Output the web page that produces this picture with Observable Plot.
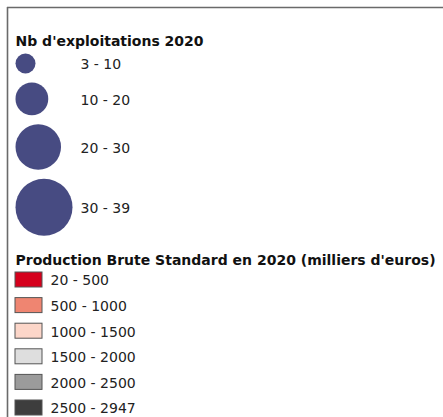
<!DOCTYPE html>
<html>
<head>
<meta charset="utf-8">
<script src="https://cdn.jsdelivr.net/npm/d3@7"></script>
<script src="https://cdn.jsdelivr.net/npm/@observablehq/plot@0.6"></script>
<style>
  html, body { margin: 0; padding: 0; background: #fff; }
  #chart svg { display: block; }
</style>
</head>
<body>
<div id="chart"></div>
<script>
// --- data ---
const sizeTitle = "Nb d'exploitations 2020";
const sizeLabels = ["3 - 10", "10 - 20", "20 - 30", "30 - 39"];
const sizeValues = [10, 20, 30, 39];            // upper bound of each class

const colorTitle = "Production Brute Standard en 2020 (milliers d'euros)";
const colorLabels = ["20 - 500", "500 - 1000", "1000 - 1500", "1500 - 2000", "2000 - 2500", "2500 - 2947"];
const colorValues = ["#d5001c", "#ef8571", "#fcd6c9", "#dedede", "#9b9b9b", "#3d3d3d"];

// --- layout (computed, not data) ---
const W = 443, H = 417;
const font = "DejaVu Sans";
const rDomain = [10, 39], rRange = [10, 28.5];
const rScale = d3.scaleLinear(rDomain, rRange);
const leftEdge = 15, gap = 9;
let cursorY = 53;
const circles = sizeValues.map((v, i) => {
  const r = rScale(v);
  const c = {label: sizeLabels[i], value: v, x: leftEdge + r, y: cursorY + r};
  cursorY += 2 * r + gap;
  return c;
});
const rowStep = 25.6, rowTop = 272, swH = 15, swW = 27;
const swatches = colorLabels.map((label, i) => ({
  label, color: colorValues[i],
  y1: rowTop + i * rowStep, y2: rowTop + i * rowStep + swH
}));

const chart = Plot.plot({
  width: W, height: H,
  margin: 0,
  x: {domain: [0, W], range: [0, W], axis: null},
  y: {domain: [0, H], range: [0, H], axis: null},
  r: {type: "linear", domain: rDomain, range: rRange},
  style: {fontFamily: font, background: "#fff"},
  marks: [
    // frame
    Plot.ruleY([7], {x1: 7, x2: W, stroke: "#6a6a6a", strokeWidth: 1.6}),
    Plot.ruleX([7], {y1: 7, y2: H, stroke: "#6a6a6a", strokeWidth: 1.6}),
    // size legend
    Plot.text([sizeTitle], {x: 15, y: 45, text: d => d, textAnchor: "start", lineAnchor: "bottom",
      fontSize: 14, fontWeight: "bold", fill: "#111"}),
    Plot.dot(circles, {x: "x", y: "y", r: "value", fill: "#474b82", stroke: null}),
    Plot.text(circles, {x: 80, y: "y", text: "label", textAnchor: "start", lineAnchor: "middle",
      dy: 1.5, fontSize: 14, fill: "#222"}),
    // color legend
    Plot.text([colorTitle], {x: 15, y: 264, text: d => d, textAnchor: "start", lineAnchor: "bottom",
      fontSize: 14, fontWeight: "bold", fill: "#111"}),
    Plot.rect(swatches, {x1: 15, x2: 15 + swW, y1: "y1", y2: "y2", fill: "color",
      stroke: "#555", strokeWidth: 1}),
    Plot.text(swatches, {x: 50, y: d => (d.y1 + d.y2) / 2, text: "label", textAnchor: "start",
      lineAnchor: "middle", dy: 1, fontSize: 14, fill: "#222"})
  ]
});
document.getElementById("chart").append(chart);
</script>
</body>
</html>
